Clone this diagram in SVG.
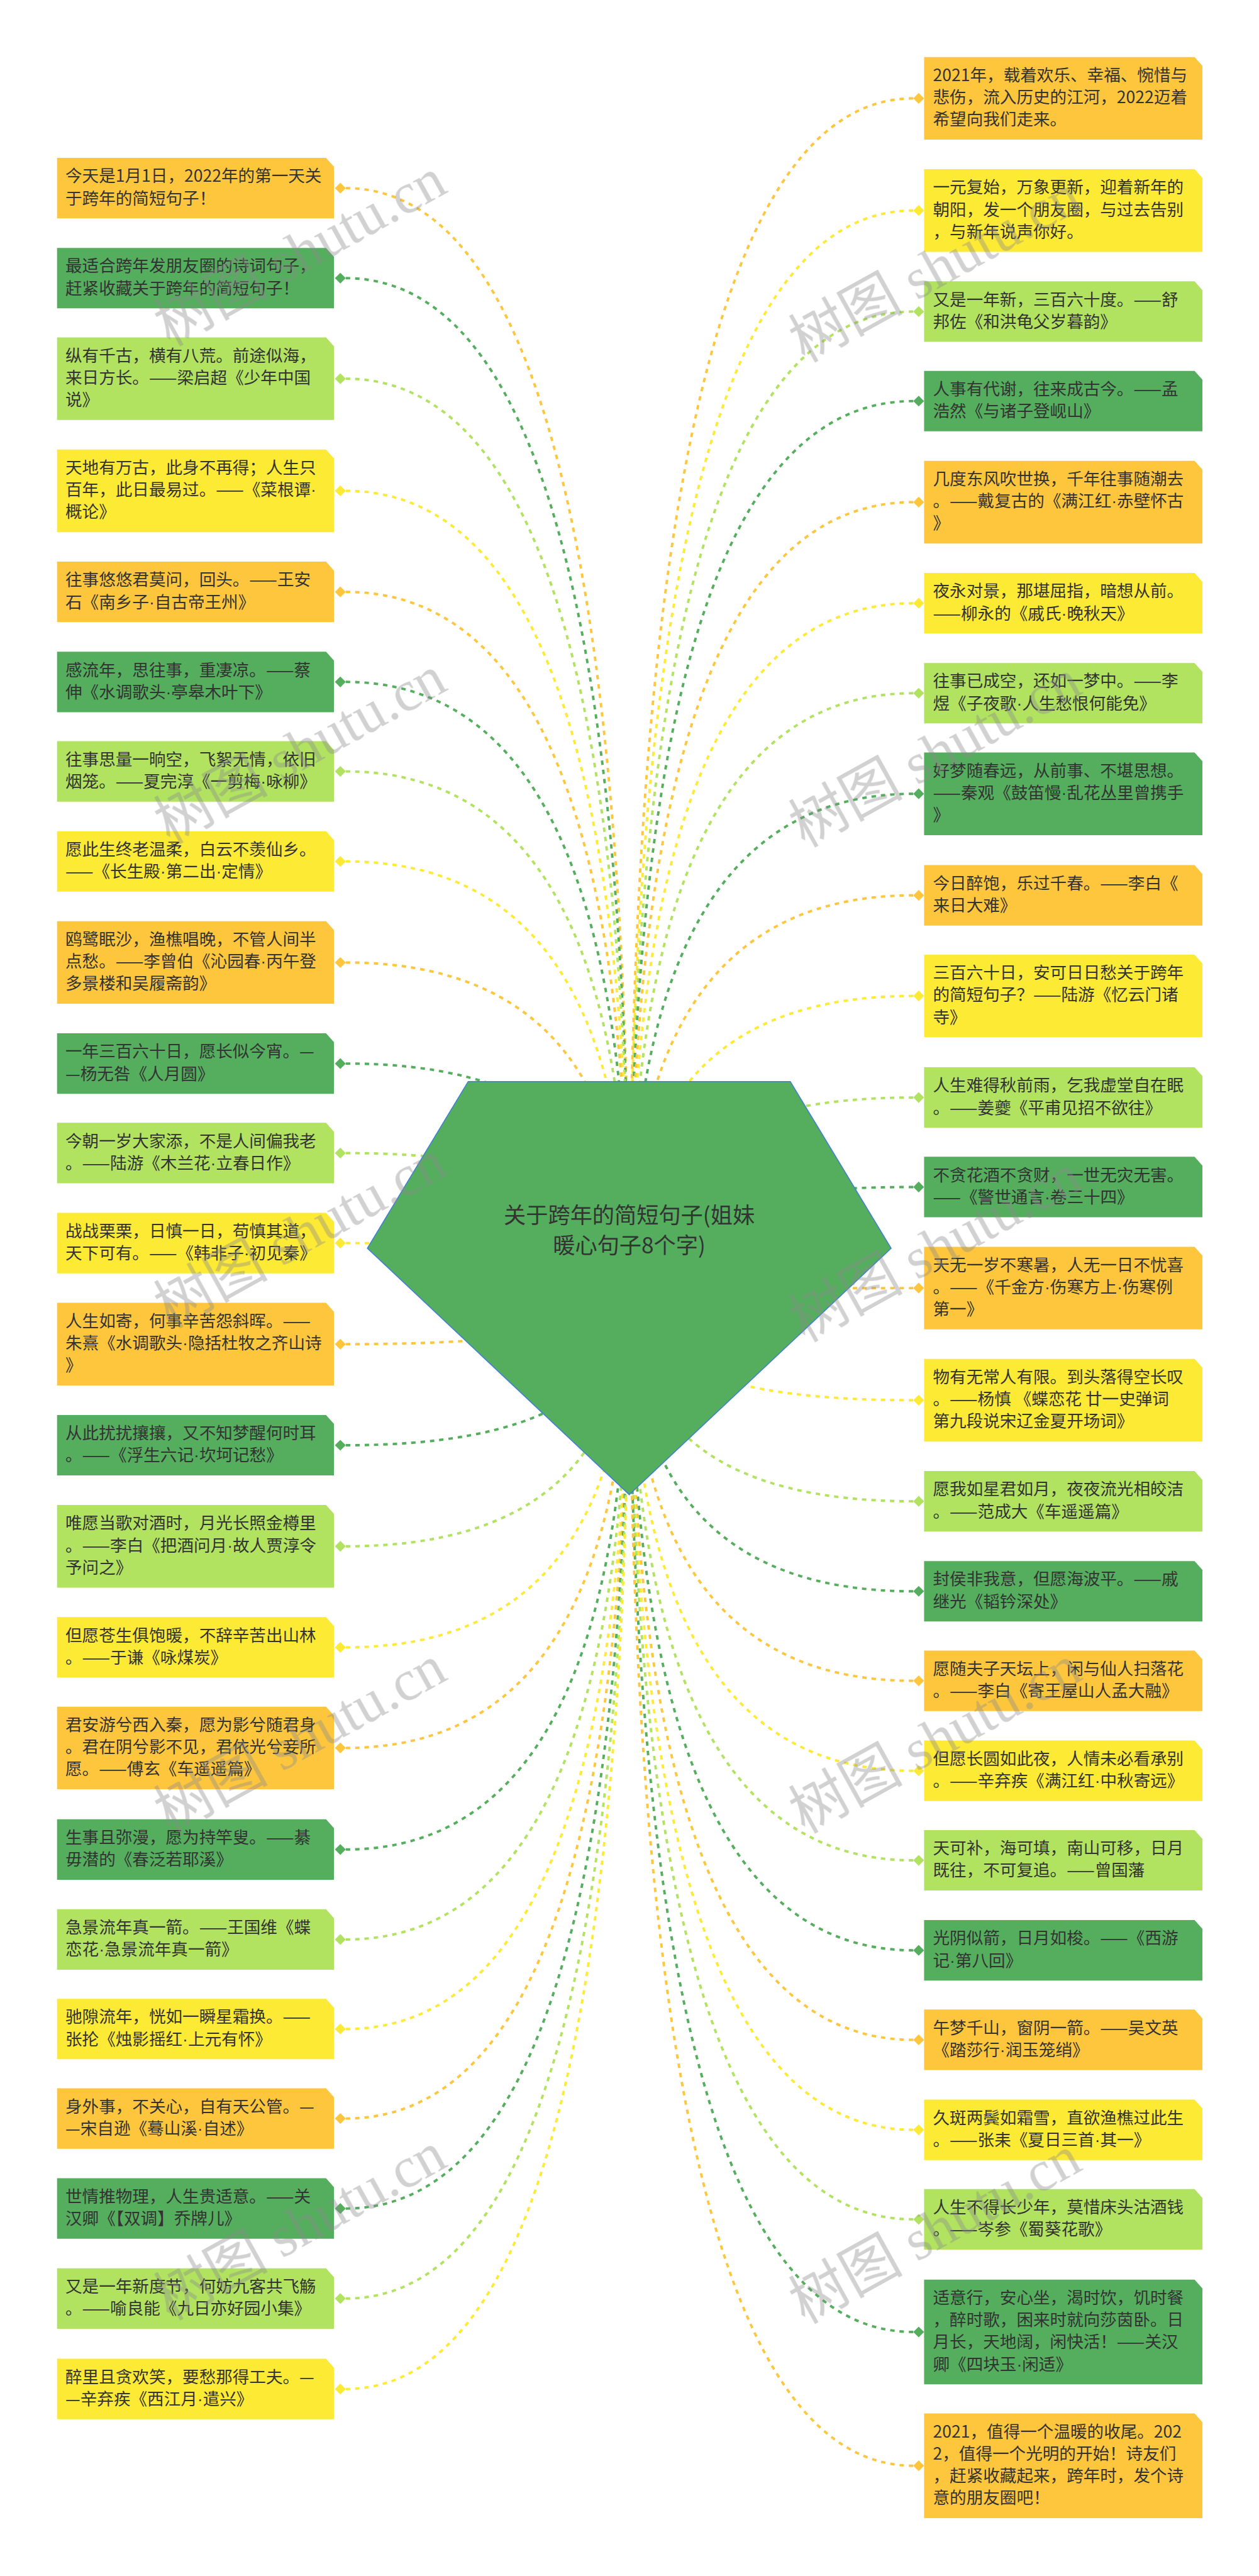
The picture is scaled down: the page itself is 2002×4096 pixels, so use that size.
<svg xmlns="http://www.w3.org/2000/svg" width="2002" height="4096" viewBox="0 0 2002 4096">
<defs>
<style>
.n text{font-family:"Noto Sans CJK SC","Noto Sans",sans-serif;font-size:34px;fill:#333333}
.n .m{font-family:"Liberation Sans",sans-serif}
.o{fill:#FEC63D}.y{fill:#FDEA35}.l{fill:#B1E361}.d{fill:#54AE5E}
.c path{fill:none;stroke-width:5;stroke-dasharray:9 10}
.so{stroke:#FEC63D}.sy{stroke:#FDEA35}.sl{stroke:#B1E361}.sd{stroke:#54AE5E}
.wm{font-family:"Liberation Serif","Noto Sans CJK SC",serif;font-size:116px;fill:#8c8c8c;opacity:.4}
.root text{font-family:"Noto Sans CJK SC","Noto Sans",sans-serif;font-size:45px;fill:#333333;text-anchor:middle}
</style>
<marker id="mo" markerUnits="userSpaceOnUse" orient="auto" overflow="visible" markerWidth="1" markerHeight="1"><polygon points="0,0 -11,-11 -22,0 -11,11" fill="#FEC63D"/></marker>
<marker id="my" markerUnits="userSpaceOnUse" orient="auto" overflow="visible" markerWidth="1" markerHeight="1"><polygon points="0,0 -11,-11 -22,0 -11,11" fill="#FDEA35"/></marker>
<marker id="ml" markerUnits="userSpaceOnUse" orient="auto" overflow="visible" markerWidth="1" markerHeight="1"><polygon points="0,0 -11,-11 -22,0 -11,11" fill="#B1E361"/></marker>
<marker id="md" markerUnits="userSpaceOnUse" orient="auto" overflow="visible" markerWidth="1" markerHeight="1"><polygon points="0,0 -11,-11 -22,0 -11,11" fill="#54AE5E"/></marker>
</defs>
<rect width="2002" height="4096" fill="#ffffff"/>
<g transform="scale(0.78203)">
<g id="connectors" class="c">
<path class="so" marker-start="url(#mo)" d="M703,382.5Q1279,382.5 1279,2619"/>
<path class="sd" marker-start="url(#md)" d="M703,565.5Q1279,565.5 1279,2619"/>
<path class="sl" marker-start="url(#ml)" d="M703,770Q1279,770 1279,2619"/>
<path class="sy" marker-start="url(#my)" d="M703,998Q1279,998 1279,2619"/>
<path class="so" marker-start="url(#mo)" d="M703,1203.5Q1279,1203.5 1279,2619"/>
<path class="sd" marker-start="url(#md)" d="M703,1386.5Q1279,1386.5 1279,2619"/>
<path class="sl" marker-start="url(#ml)" d="M703,1568.5Q1279,1568.5 1279,2619"/>
<path class="sy" marker-start="url(#my)" d="M703,1751.5Q1279,1751.5 1279,2619"/>
<path class="so" marker-start="url(#mo)" d="M703,1957Q1279,1957 1279,2619"/>
<path class="sd" marker-start="url(#md)" d="M703,2162.5Q1279,2162.5 1279,2619"/>
<path class="sl" marker-start="url(#ml)" d="M703,2344.5Q1279,2344.5 1279,2619"/>
<path class="sy" marker-start="url(#my)" d="M703,2527.5Q1279,2527.5 1279,2619"/>
<path class="so" marker-start="url(#mo)" d="M703,2733Q1279,2733 1279,2619"/>
<path class="sd" marker-start="url(#md)" d="M703,2938.5Q1279,2938.5 1279,2619"/>
<path class="sl" marker-start="url(#ml)" d="M703,3144Q1279,3144 1279,2619"/>
<path class="sy" marker-start="url(#my)" d="M703,3349.5Q1279,3349.5 1279,2619"/>
<path class="so" marker-start="url(#mo)" d="M703,3554Q1279,3554 1279,2619"/>
<path class="sd" marker-start="url(#md)" d="M703,3760.5Q1279,3760.5 1279,2619"/>
<path class="sl" marker-start="url(#ml)" d="M703,3943.5Q1279,3943.5 1279,2619"/>
<path class="sy" marker-start="url(#my)" d="M703,4125.5Q1279,4125.5 1279,2619"/>
<path class="so" marker-start="url(#mo)" d="M703,4307.5Q1279,4307.5 1279,2619"/>
<path class="sd" marker-start="url(#md)" d="M703,4490.5Q1279,4490.5 1279,2619"/>
<path class="sl" marker-start="url(#ml)" d="M703,4673.5Q1279,4673.5 1279,2619"/>
<path class="sy" marker-start="url(#my)" d="M703,4857.5Q1279,4857.5 1279,2619"/>
<path class="so" marker-start="url(#mo)" d="M1857,200Q1280,200 1280,2619"/>
<path class="sy" marker-start="url(#my)" d="M1857,428Q1280,428 1280,2619"/>
<path class="sl" marker-start="url(#ml)" d="M1857,633.5Q1280,633.5 1280,2619"/>
<path class="sd" marker-start="url(#md)" d="M1857,815.5Q1280,815.5 1280,2619"/>
<path class="so" marker-start="url(#mo)" d="M1857,1021Q1280,1021 1280,2619"/>
<path class="sy" marker-start="url(#my)" d="M1857,1226.5Q1280,1226.5 1280,2619"/>
<path class="sl" marker-start="url(#ml)" d="M1857,1409.5Q1280,1409.5 1280,2619"/>
<path class="sd" marker-start="url(#md)" d="M1857,1614Q1280,1614 1280,2619"/>
<path class="so" marker-start="url(#mo)" d="M1857,1820.5Q1280,1820.5 1280,2619"/>
<path class="sy" marker-start="url(#my)" d="M1857,2025Q1280,2025 1280,2619"/>
<path class="sl" marker-start="url(#ml)" d="M1857,2231.5Q1280,2231.5 1280,2619"/>
<path class="sd" marker-start="url(#md)" d="M1857,2413.5Q1280,2413.5 1280,2619"/>
<path class="so" marker-start="url(#mo)" d="M1857,2619L1280,2619.5"/>
<path class="sy" marker-start="url(#my)" d="M1857,2847Q1280,2847 1280,2619"/>
<path class="sl" marker-start="url(#ml)" d="M1857,3052.5Q1280,3052.5 1280,2619"/>
<path class="sd" marker-start="url(#md)" d="M1857,3235.5Q1280,3235.5 1280,2619"/>
<path class="so" marker-start="url(#mo)" d="M1857,3417.5Q1280,3417.5 1280,2619"/>
<path class="sy" marker-start="url(#my)" d="M1857,3600.5Q1280,3600.5 1280,2619"/>
<path class="sl" marker-start="url(#ml)" d="M1857,3782.5Q1280,3782.5 1280,2619"/>
<path class="sd" marker-start="url(#md)" d="M1857,3965.5Q1280,3965.5 1280,2619"/>
<path class="so" marker-start="url(#mo)" d="M1857,4147.5Q1280,4147.5 1280,2619"/>
<path class="sy" marker-start="url(#my)" d="M1857,4330.5Q1280,4330.5 1280,2619"/>
<path class="sl" marker-start="url(#ml)" d="M1857,4512.5Q1280,4512.5 1280,2619"/>
<path class="sd" marker-start="url(#md)" d="M1857,4741.5Q1280,4741.5 1280,2619"/>
<path class="so" marker-start="url(#mo)" d="M1857,5013.5Q1280,5013.5 1280,2619"/>
</g>
<g id="root" class="root">
<polygon points="952,2199 1607,2199 1812,2538 1279.5,3039 747,2538" fill="#54AE5E" stroke="#3F7FD6" stroke-width="2"/>
<text x="1279.5" y="2487">关于跨年的简短句子(姐妹</text>
<text x="1279.5" y="2548">暖心句子8个字)</text>
</g>
<g id="L1" class="n"><path class="o" d="M116,321H663L679,339V444H116Z"/><text y="370"><tspan x="133">今天是1月1日，2022年的第一天关</tspan><tspan x="133" dy="45">于跨年的简短句子！</tspan></text></g>
<g id="L2" class="n"><path class="d" d="M116,504H663L679,522V627H116Z"/><text y="553"><tspan x="133">最适合跨年发朋友圈的诗词句子，</tspan><tspan x="133" dy="45">赶紧收藏关于跨年的简短句子！</tspan></text></g>
<g id="L3" class="n"><path class="l" d="M116,686H663L679,704V854H116Z"/><text y="735"><tspan x="133">纵有千古，横有八荒。前途似海，</tspan><tspan x="133" dy="45">来日方长。——梁启超《少年中国</tspan><tspan x="133" dy="45">说》</tspan></text></g>
<g id="L4" class="n"><path class="y" d="M116,914H663L679,932V1082H116Z"/><text y="963"><tspan x="133">天地有万古，此身不再得；人生只</tspan><tspan x="133" dy="45">百年，此日最易过。——《菜根谭<tspan class="m">·</tspan></tspan><tspan x="133" dy="45">概论》</tspan></text></g>
<g id="L5" class="n"><path class="o" d="M116,1142H663L679,1160V1265H116Z"/><text y="1191"><tspan x="133">往事悠悠君莫问，回头。——王安</tspan><tspan x="133" dy="45">石《南乡子<tspan class="m">·</tspan>自古帝王州》</tspan></text></g>
<g id="L6" class="n"><path class="d" d="M116,1325H663L679,1343V1448H116Z"/><text y="1374"><tspan x="133">感流年，思往事，重凄凉。——蔡</tspan><tspan x="133" dy="45">伸《水调歌头<tspan class="m">·</tspan>亭皋木叶下》</tspan></text></g>
<g id="L7" class="n"><path class="l" d="M116,1507H663L679,1525V1630H116Z"/><text y="1556"><tspan x="133">往事思量一晌空，飞絮无情，依旧</tspan><tspan x="133" dy="45">烟笼。——夏完淳《一剪梅<tspan class="m">·</tspan>咏柳》</tspan></text></g>
<g id="L8" class="n"><path class="y" d="M116,1690H663L679,1708V1813H116Z"/><text y="1739"><tspan x="133">愿此生终老温柔，白云不羡仙乡。</tspan><tspan x="133" dy="45">——《长生殿<tspan class="m">·</tspan>第二出<tspan class="m">·</tspan>定情》</tspan></text></g>
<g id="L9" class="n"><path class="o" d="M116,1873H663L679,1891V2041H116Z"/><text y="1922"><tspan x="133">鸥鹭眠沙，渔樵唱晚，不管人间半</tspan><tspan x="133" dy="45">点愁。——李曾伯《沁园春<tspan class="m">·</tspan>丙午登</tspan><tspan x="133" dy="45">多景楼和吴履斋韵》</tspan></text></g>
<g id="L10" class="n"><path class="d" d="M116,2101H663L679,2119V2224H116Z"/><text y="2150"><tspan x="133">一年三百六十日，愿长似今宵。—</tspan><tspan x="133" dy="45">—杨无咎《人月圆》</tspan></text></g>
<g id="L11" class="n"><path class="l" d="M116,2283H663L679,2301V2406H116Z"/><text y="2332"><tspan x="133">今朝一岁大家添，不是人间偏我老</tspan><tspan x="133" dy="45">。——陆游《木兰花<tspan class="m">·</tspan>立春日作》</tspan></text></g>
<g id="L12" class="n"><path class="y" d="M116,2466H663L679,2484V2589H116Z"/><text y="2515"><tspan x="133">战战栗栗，日慎一日，苟慎其道，</tspan><tspan x="133" dy="45">天下可有。——《韩非子<tspan class="m">·</tspan>初见秦》</tspan></text></g>
<g id="L13" class="n"><path class="o" d="M116,2649H663L679,2667V2817H116Z"/><text y="2698"><tspan x="133">人生如寄，何事辛苦怨斜晖。——</tspan><tspan x="133" dy="45">朱熹《水调歌头<tspan class="m">·</tspan>隐括杜牧之齐山诗</tspan><tspan x="133" dy="45">》</tspan></text></g>
<g id="L14" class="n"><path class="d" d="M116,2877H663L679,2895V3000H116Z"/><text y="2926"><tspan x="133">从此扰扰攘攘，又不知梦醒何时耳</tspan><tspan x="133" dy="45">。——《浮生六记<tspan class="m">·</tspan>坎坷记愁》</tspan></text></g>
<g id="L15" class="n"><path class="l" d="M116,3060H663L679,3078V3228H116Z"/><text y="3109"><tspan x="133">唯愿当歌对酒时，月光长照金樽里</tspan><tspan x="133" dy="45">。——李白《把酒问月<tspan class="m">·</tspan>故人贾淳令</tspan><tspan x="133" dy="45">予问之》</tspan></text></g>
<g id="L16" class="n"><path class="y" d="M116,3288H663L679,3306V3411H116Z"/><text y="3337"><tspan x="133">但愿苍生俱饱暖，不辞辛苦出山林</tspan><tspan x="133" dy="45">。——于谦《咏煤炭》</tspan></text></g>
<g id="L17" class="n"><path class="o" d="M116,3470H663L679,3488V3638H116Z"/><text y="3519"><tspan x="133">君安游兮西入秦，愿为影兮随君身</tspan><tspan x="133" dy="45">。君在阴兮影不见，君依光兮妾所</tspan><tspan x="133" dy="45">愿。——傅玄《车遥遥篇》</tspan></text></g>
<g id="L18" class="n"><path class="d" d="M116,3699H663L679,3717V3822H116Z"/><text y="3748"><tspan x="133">生事且弥漫，愿为持竿叟。——綦</tspan><tspan x="133" dy="45">毋潜的《春泛若耶溪》</tspan></text></g>
<g id="L19" class="n"><path class="l" d="M116,3882H663L679,3900V4005H116Z"/><text y="3931"><tspan x="133">急景流年真一箭。——王国维《蝶</tspan><tspan x="133" dy="45">恋花<tspan class="m">·</tspan>急景流年真一箭》</tspan></text></g>
<g id="L20" class="n"><path class="y" d="M116,4064H663L679,4082V4187H116Z"/><text y="4113"><tspan x="133">驰隙流年，恍如一瞬星霜换。——</tspan><tspan x="133" dy="45">张抡《烛影摇红<tspan class="m">·</tspan>上元有怀》</tspan></text></g>
<g id="L21" class="n"><path class="o" d="M116,4246H663L679,4264V4369H116Z"/><text y="4295"><tspan x="133">身外事，不关心，自有天公管。—</tspan><tspan x="133" dy="45">—宋自逊《蓦山溪<tspan class="m">·</tspan>自述》</tspan></text></g>
<g id="L22" class="n"><path class="d" d="M116,4429H663L679,4447V4552H116Z"/><text y="4478"><tspan x="133">世情推物理，人生贵适意。——关</tspan><tspan x="133" dy="45">汉卿《【双调】乔牌儿》</tspan></text></g>
<g id="L23" class="n"><path class="l" d="M116,4612H663L679,4630V4735H116Z"/><text y="4661"><tspan x="133">又是一年新度节，何妨九客共飞觞</tspan><tspan x="133" dy="45">。——喻良能《九日亦好园小集》</tspan></text></g>
<g id="L24" class="n"><path class="y" d="M116,4796H663L679,4814V4919H116Z"/><text y="4845"><tspan x="133">醉里且贪欢笑，要愁那得工夫。—</tspan><tspan x="133" dy="45">—辛弃疾《西江月<tspan class="m">·</tspan>遣兴》</tspan></text></g>
<g id="R1" class="n"><path class="o" d="M1879,116H2429L2445,134V284H1879Z"/><text y="165"><tspan x="1897">2021年，载着欢乐、幸福、惋惜与</tspan><tspan x="1897" dy="45">悲伤，流入历史的江河，2022迈着</tspan><tspan x="1897" dy="45">希望向我们走来。</tspan></text></g>
<g id="R2" class="n"><path class="y" d="M1879,344H2429L2445,362V512H1879Z"/><text y="393"><tspan x="1897">一元复始，万象更新，迎着新年的</tspan><tspan x="1897" dy="45">朝阳，发一个朋友圈，与过去告别</tspan><tspan x="1897" dy="45">，与新年说声你好。</tspan></text></g>
<g id="R3" class="n"><path class="l" d="M1879,572H2429L2445,590V695H1879Z"/><text y="621"><tspan x="1897">又是一年新，三百六十度。——舒</tspan><tspan x="1897" dy="45">邦佐《和洪龟父岁暮韵》</tspan></text></g>
<g id="R4" class="n"><path class="d" d="M1879,754H2429L2445,772V877H1879Z"/><text y="803"><tspan x="1897">人事有代谢，往来成古今。——孟</tspan><tspan x="1897" dy="45">浩然《与诸子登岘山》</tspan></text></g>
<g id="R5" class="n"><path class="o" d="M1879,937H2429L2445,955V1105H1879Z"/><text y="986"><tspan x="1897">几度东风吹世换，千年往事随潮去</tspan><tspan x="1897" dy="45">。——戴复古的《满江红<tspan class="m">·</tspan>赤壁怀古</tspan><tspan x="1897" dy="45">》</tspan></text></g>
<g id="R6" class="n"><path class="y" d="M1879,1165H2429L2445,1183V1288H1879Z"/><text y="1214"><tspan x="1897">夜永对景，那堪屈指，暗想从前。</tspan><tspan x="1897" dy="45">——柳永的《戚氏<tspan class="m">·</tspan>晚秋天》</tspan></text></g>
<g id="R7" class="n"><path class="l" d="M1879,1348H2429L2445,1366V1471H1879Z"/><text y="1397"><tspan x="1897">往事已成空，还如一梦中。——李</tspan><tspan x="1897" dy="45">煜《子夜歌<tspan class="m">·</tspan>人生愁恨何能免》</tspan></text></g>
<g id="R8" class="n"><path class="d" d="M1879,1530H2429L2445,1548V1698H1879Z"/><text y="1579"><tspan x="1897">好梦随春远，从前事、不堪思想。</tspan><tspan x="1897" dy="45">——秦观《鼓笛慢<tspan class="m">·</tspan>乱花丛里曾携手</tspan><tspan x="1897" dy="45">》</tspan></text></g>
<g id="R9" class="n"><path class="o" d="M1879,1759H2429L2445,1777V1882H1879Z"/><text y="1808"><tspan x="1897">今日醉饱，乐过千春。——李白《</tspan><tspan x="1897" dy="45">来日大难》</tspan></text></g>
<g id="R10" class="n"><path class="y" d="M1879,1941H2429L2445,1959V2109H1879Z"/><text y="1990"><tspan x="1897">三百六十日，安可日日愁关于跨年</tspan><tspan x="1897" dy="45">的简短句子？——陆游《忆云门诸</tspan><tspan x="1897" dy="45">寺》</tspan></text></g>
<g id="R11" class="n"><path class="l" d="M1879,2170H2429L2445,2188V2293H1879Z"/><text y="2219"><tspan x="1897">人生难得秋前雨，乞我虚堂自在眠</tspan><tspan x="1897" dy="45">。——姜夔《平甫见招不欲往》</tspan></text></g>
<g id="R12" class="n"><path class="d" d="M1879,2352H2429L2445,2370V2475H1879Z"/><text y="2401"><tspan x="1897">不贪花酒不贪财，一世无灾无害。</tspan><tspan x="1897" dy="45">——《警世通言<tspan class="m">·</tspan>卷三十四》</tspan></text></g>
<g id="R13" class="n"><path class="o" d="M1879,2535H2429L2445,2553V2703H1879Z"/><text y="2584"><tspan x="1897">天无一岁不寒暑，人无一日不忧喜</tspan><tspan x="1897" dy="45">。——《千金方<tspan class="m">·</tspan>伤寒方上<tspan class="m">·</tspan>伤寒例</tspan><tspan x="1897" dy="45">第一》</tspan></text></g>
<g id="R14" class="n"><path class="y" d="M1879,2763H2429L2445,2781V2931H1879Z"/><text y="2812"><tspan x="1897">物有无常人有限。到头落得空长叹</tspan><tspan x="1897" dy="45">。——杨慎 《蝶恋花 廿一史弹词</tspan><tspan x="1897" dy="45">第九段说宋辽金夏开场词》</tspan></text></g>
<g id="R15" class="n"><path class="l" d="M1879,2991H2429L2445,3009V3114H1879Z"/><text y="3040"><tspan x="1897">愿我如星君如月，夜夜流光相皎洁</tspan><tspan x="1897" dy="45">。——范成大《车遥遥篇》</tspan></text></g>
<g id="R16" class="n"><path class="d" d="M1879,3174H2429L2445,3192V3297H1879Z"/><text y="3223"><tspan x="1897">封侯非我意，但愿海波平。——戚</tspan><tspan x="1897" dy="45">继光《韬钤深处》</tspan></text></g>
<g id="R17" class="n"><path class="o" d="M1879,3356H2429L2445,3374V3479H1879Z"/><text y="3405"><tspan x="1897">愿随夫子天坛上，闲与仙人扫落花</tspan><tspan x="1897" dy="45">。——李白《寄王屋山人孟大融》</tspan></text></g>
<g id="R18" class="n"><path class="y" d="M1879,3539H2429L2445,3557V3662H1879Z"/><text y="3588"><tspan x="1897">但愿长圆如此夜，人情未必看承别</tspan><tspan x="1897" dy="45">。——辛弃疾《满江红<tspan class="m">·</tspan>中秋寄远》</tspan></text></g>
<g id="R19" class="n"><path class="l" d="M1879,3721H2429L2445,3739V3844H1879Z"/><text y="3770"><tspan x="1897">天可补，海可填，南山可移，日月</tspan><tspan x="1897" dy="45">既往，不可复追。——曾国藩</tspan></text></g>
<g id="R20" class="n"><path class="d" d="M1879,3904H2429L2445,3922V4027H1879Z"/><text y="3953"><tspan x="1897">光阴似箭，日月如梭。——《西游</tspan><tspan x="1897" dy="45">记<tspan class="m">·</tspan>第八回》</tspan></text></g>
<g id="R21" class="n"><path class="o" d="M1879,4086H2429L2445,4104V4209H1879Z"/><text y="4135"><tspan x="1897">午梦千山，窗阴一箭。——吴文英</tspan><tspan x="1897" dy="45">《踏莎行<tspan class="m">·</tspan>润玉笼绡》</tspan></text></g>
<g id="R22" class="n"><path class="y" d="M1879,4269H2429L2445,4287V4392H1879Z"/><text y="4318"><tspan x="1897">久斑两鬓如霜雪，直欲渔樵过此生</tspan><tspan x="1897" dy="45">。——张耒《夏日三首<tspan class="m">·</tspan>其一》</tspan></text></g>
<g id="R23" class="n"><path class="l" d="M1879,4451H2429L2445,4469V4574H1879Z"/><text y="4500"><tspan x="1897">人生不得长少年，莫惜床头沽酒钱</tspan><tspan x="1897" dy="45">。——岑参《蜀葵花歌》</tspan></text></g>
<g id="R24" class="n"><path class="d" d="M1879,4635H2429L2445,4653V4848H1879Z"/><text y="4684"><tspan x="1897">适意行，安心坐，渴时饮，饥时餐</tspan><tspan x="1897" dy="45">，醉时歌，困来时就向莎茵卧。日</tspan><tspan x="1897" dy="45">月长，天地阔，闲快活！——关汉</tspan><tspan x="1897" dy="45">卿《四块玉<tspan class="m">·</tspan>闲适》</tspan></text></g>
<g id="R25" class="n"><path class="o" d="M1879,4907H2429L2445,4925V5120H1879Z"/><text y="4956"><tspan x="1897">2021，值得一个温暖的收尾。202</tspan><tspan x="1897" dy="45">2，值得一个光明的开始！诗友们</tspan><tspan x="1897" dy="45">，赶紧收藏起来，跨年时，发个诗</tspan><tspan x="1897" dy="45">意的朋友圈吧！</tspan></text></g>
<g id="watermarks" class="wm">
<text x="345" y="705" transform="rotate(-29 345 705)">树图 shutu.cn</text>
<text x="345" y="1717" transform="rotate(-29 345 1717)">树图 shutu.cn</text>
<text x="345" y="2702" transform="rotate(-29 345 2702)">树图 shutu.cn</text>
<text x="345" y="3729" transform="rotate(-29 345 3729)">树图 shutu.cn</text>
<text x="345" y="4719" transform="rotate(-29 345 4719)">树图 shutu.cn</text>
<text x="1636" y="738" transform="rotate(-29 1636 738)">树图 shutu.cn</text>
<text x="1636" y="1724" transform="rotate(-29 1636 1724)">树图 shutu.cn</text>
<text x="1636" y="2730" transform="rotate(-29 1636 2730)">树图 shutu.cn</text>
<text x="1636" y="3729" transform="rotate(-29 1636 3729)">树图 shutu.cn</text>
<text x="1636" y="4726" transform="rotate(-29 1636 4726)">树图 shutu.cn</text>
</g>
</g>
</svg>
